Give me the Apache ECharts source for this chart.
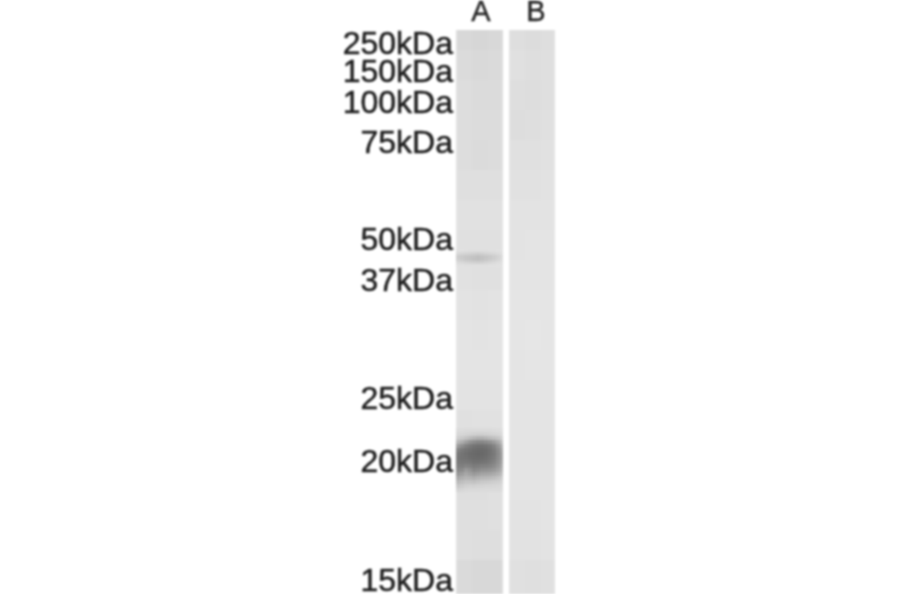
<!DOCTYPE html>
<html><head><meta charset="utf-8">
<script src="https://cdn.jsdelivr.net/npm/echarts@6/dist/echarts.min.js"></script>
<style>html,body{margin:0;background:#fff}#c{width:900px;height:594px;filter:blur(0.8px)}</style>
</head><body><div id="c"></div>
<script>
const laneLabels = ['A', 'B'];
const lanePositions = [481, 536];
const markerLabels = ['250kDa','150kDa','100kDa','75kDa','50kDa','37kDa','25kDa','20kDa','15kDa'];
const markerPositions = [45, 73, 104, 144, 241, 282, 400, 463, 582];

const bgColumnsA = [456, 458, 472, 488, 501, 503];
const bgColumnsB = [509, 511, 525, 541, 553, 555];
const laneRowStarts = [30,50,80,110,140,170,200,230,260,290,320,350,380,410,440,470,500,530,560,594];
const laneA = [
 [220,216,214,216,218],[222,219,217,218,220],[223,221,219,219,221],[224,221,220,220,222],
 [224,221,219,220,222],[226,223,223,223,224],[227,225,225,225,226],[227,224,224,224,226],
 [227,225,224,224,226],[229,227,226,227,228],[230,228,227,228,229],[230,228,228,228,229],
 [229,227,227,227,228],[227,224,225,225,226],[225,222,222,224,225],[225,222,222,224,225],
 [225,223,223,224,225],[225,223,222,222,224],[221,218,216,216,219]
];
const laneB = [
 [224,222,220,222,224],[226,224,222,223,225],[225,222,221,223,225],[224,221,222,224,226],
 [226,224,224,225,227],[227,225,225,226,228],[229,227,227,227,229],[229,227,228,228,229],
 [230,228,228,228,230],[231,229,229,229,231],[231,229,230,229,231],[230,228,229,229,231],
 [230,228,228,228,230],[230,228,228,228,230],[230,228,228,228,230],[230,228,228,228,230],
 [229,227,227,228,230],[228,226,226,227,229],[226,224,223,224,226]
];

const bandColumns = [456,460,464,468,472,476,480,484,488,492,496,500,503];
const band20Starts = [428,432,436,440,444,448,452,456,460,464,468,472,476,480,484,488,492];
const band20 = [
 [220,220,219,219,219,219,219,219,219,220,221,222],
 [216,215,213,211,209,208,208,209,211,213,215,218],
 [206,202,196,188,182,178,178,182,188,192,198,208],
 [184,174,160,148,140,136,136,140,146,156,170,190],
 [156,142,130,122,116,113,113,116,122,132,150,174],
 [132,122,116,112,108,106,106,108,114,124,140,164],
 [122,116,112,108,106,104,105,108,114,122,138,160],
 [120,116,114,110,108,107,108,111,117,125,140,160],
 [122,120,120,118,114,114,116,118,123,131,144,164],
 [128,128,132,130,124,126,129,130,133,140,152,170],
 [138,140,154,147,136,139,144,145,148,153,163,178],
 [152,158,168,161,154,159,164,165,167,171,178,190],
 [170,175,181,179,175,180,184,185,187,190,195,203],
 [186,191,196,196,194,198,201,202,204,206,208,212],
 [200,204,208,210,209,211,212,214,214,215,216,218],
 [212,214,217,218,218,218,219,219,219,219,219,220]
];
const band44Starts = [249,252,255,258,261,264,267];
const band44 = [
 [225,225,224,223,223,223,223,223,224,224,225,226],
 [216,214,212,211,209,207,209,212,214,216,219,223],
 [204,202,199,197,195,192,195,198,201,205,210,218],
 [207,204,199,197,194,192,195,199,203,207,213,220],
 [218,216,213,211,209,208,209,212,215,218,221,224],
 [225,225,224,224,224,224,224,224,225,225,226,226]
];

function cells(xs, ys, table) {
  const out = [];
  table.forEach((row, r) => row.forEach((g, c) => out.push([xs[c], xs[c+1], ys[r], ys[r+1], g])));
  return out;
}
const data = [].concat(
  cells(bgColumnsA, laneRowStarts, laneA),
  cells(bgColumnsB, laneRowStarts, laneB),
  cells(bandColumns, band20Starts, band20),
  cells(bandColumns, band44Starts, band44)
);
const markerLabelStyle = {margin:3,hideOverlap:false,fontFamily:'Liberation Sans',fontSize:32,color:'#1e1e1e',textBorderColor:'#1e1e1e',textBorderWidth:0.5,
  formatter:v=>markerLabels[markerPositions.indexOf(v)]};
const markerAxis = values => ({type:'value',position:'left',inverse:true,min:30,max:594,splitLine:{show:false},axisLine:{show:false},
  axisTick:{show:false},axisLabel:Object.assign({customValues:values},markerLabelStyle)});
const chart = echarts.init(document.getElementById('c'), null, {renderer:'canvas'});
chart.setOption({
  animation:false,
  backgroundColor:'#fff',
  grid:{left:456,right:344,top:30,bottom:0,outerBoundsMode:'none',containLabel:false},
  xAxis:{type:'value',position:'top',min:456,max:556,splitLine:{show:false},axisLine:{show:false},
    axisTick:{show:false},
    axisLabel:{customValues:lanePositions,formatter:v=>laneLabels[lanePositions.indexOf(v)],margin:3,hideOverlap:false,fontFamily:'Liberation Sans',fontSize:29,color:'#262626',textBorderColor:'#262626',textBorderWidth:0.4}},
  yAxis:[markerAxis(markerPositions.filter((v,i)=>i%2===0)), markerAxis(markerPositions.filter((v,i)=>i%2===1))],
  series:[{type:'custom',silent:true,clip:true,encode:{x:[0,1],y:[2,3]},data,
    renderItem(params,api){
      const a=api.coord([api.value(0),api.value(2)]), b=api.coord([api.value(1),api.value(3)]);
      const g=api.value(4);
      return {type:'rect',shape:{x:Math.round(a[0]),y:Math.round(a[1]),width:Math.round(b[0])-Math.round(a[0]),height:Math.round(b[1])-Math.round(a[1])},
        style:{fill:'rgb('+g+','+g+','+g+')'}};
    }}]
});
</script></body></html>
